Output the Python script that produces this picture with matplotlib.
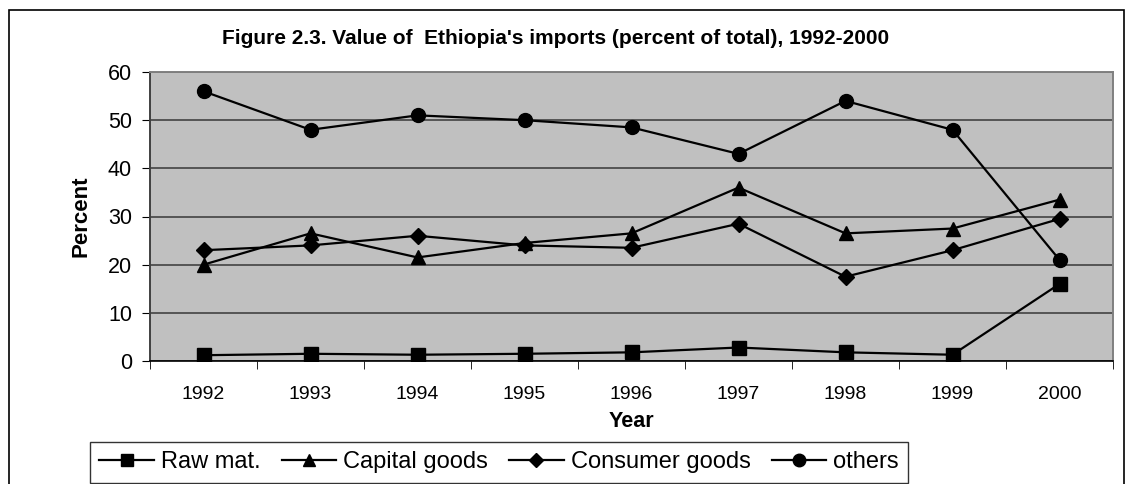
import matplotlib.pyplot as plt
from matplotlib.patches import Rectangle
import numpy as np

plt.rcParams['font.family'] = ['Liberation Sans', 'DejaVu Sans']

years = ['1992', '1993', '1994', '1995', '1996', '1997', '1998', '1999', '2000']
raw_mat = [1.2, 1.5, 1.3, 1.5, 1.8, 2.8, 1.8, 1.3, 16]
capital_goods = [20, 26.5, 21.5, 24.5, 26.5, 36, 26.5, 27.5, 33.5]
consumer_goods = [23, 24, 26, 24, 23.5, 28.5, 17.5, 23, 29.5]
others = [56, 48, 51, 50, 48.5, 43, 54, 48, 21]

W, H = 1125, 484
fig = plt.figure(figsize=(W / 100, H / 100), dpi=100)
# outer chart border
fig.patches.append(Rectangle((9 / W, -0.01), 1115 / W, 1 - 10 / H + 0.01,
                             transform=fig.transFigure, fill=False,
                             edgecolor='black', linewidth=1.2))

ax = fig.add_axes([150 / W, 1 - 361 / H, 963 / W, 289 / H])
ax.set_facecolor('#C0C0C0')

x = np.arange(len(years))
ax.plot(x, raw_mat, color='black', lw=1.6, marker='s', ms=10, label='Raw mat.')
ax.plot(x, capital_goods, color='black', lw=1.6, marker='^', ms=10, label='Capital goods')
ax.plot(x, consumer_goods, color='black', lw=1.6, marker='D', ms=8, label='Consumer goods')
ax.plot(x, others, color='black', lw=1.6, marker='o', ms=10, label='others')

ax.set_xlim(-0.5, len(years) - 0.5)
ax.set_ylim(0, 60)
ax.set_yticks(range(0, 61, 10))
ax.set_xticks(x)
ax.set_xticklabels(years)
ax.set_xticks(np.arange(-0.5, len(years), 1), minor=True)
ax.tick_params(axis='x', which='major', length=0, labelsize=14, pad=18)
ax.tick_params(axis='x', which='minor', length=6, direction='out', color='black')
ax.tick_params(axis='y', length=6, direction='out', labelsize=15.5, color='black', pad=7)
ax.grid(axis='y', color='#555555', linewidth=1.4)
ax.set_axisbelow(True)
for side in ['top', 'right']:
    ax.spines[side].set_color('#808080')
    ax.spines[side].set_linewidth(1.4)
ax.spines['left'].set_color('#404040')
ax.spines['left'].set_linewidth(1.4)
ax.spines['bottom'].set_color('black')
ax.spines['bottom'].set_linewidth(1.2)

ax.set_ylabel('Percent', fontsize=16, fontweight='bold', labelpad=12)
ax.set_xlabel('Year', fontsize=15.5, fontweight='bold', labelpad=6)
fig.text(222 / W, 1 - 39 / H, "Figure 2.3. Value of  Ethiopia's imports (percent of total), 1992-2000",
         ha='left', va='center', fontsize=15, fontweight='bold')

leg = fig.legend(loc='upper left', bbox_to_anchor=(90 / W, 1 - 442 / H), ncol=4,
                 fontsize=17, frameon=True, fancybox=False, edgecolor='black',
                 handlelength=2.3, handletextpad=0.3, columnspacing=0.9,
                 borderpad=0.4, borderaxespad=0, markerscale=0.9)
leg.get_frame().set_linewidth(1.0)

fig.savefig('out.png', dpi=100)
